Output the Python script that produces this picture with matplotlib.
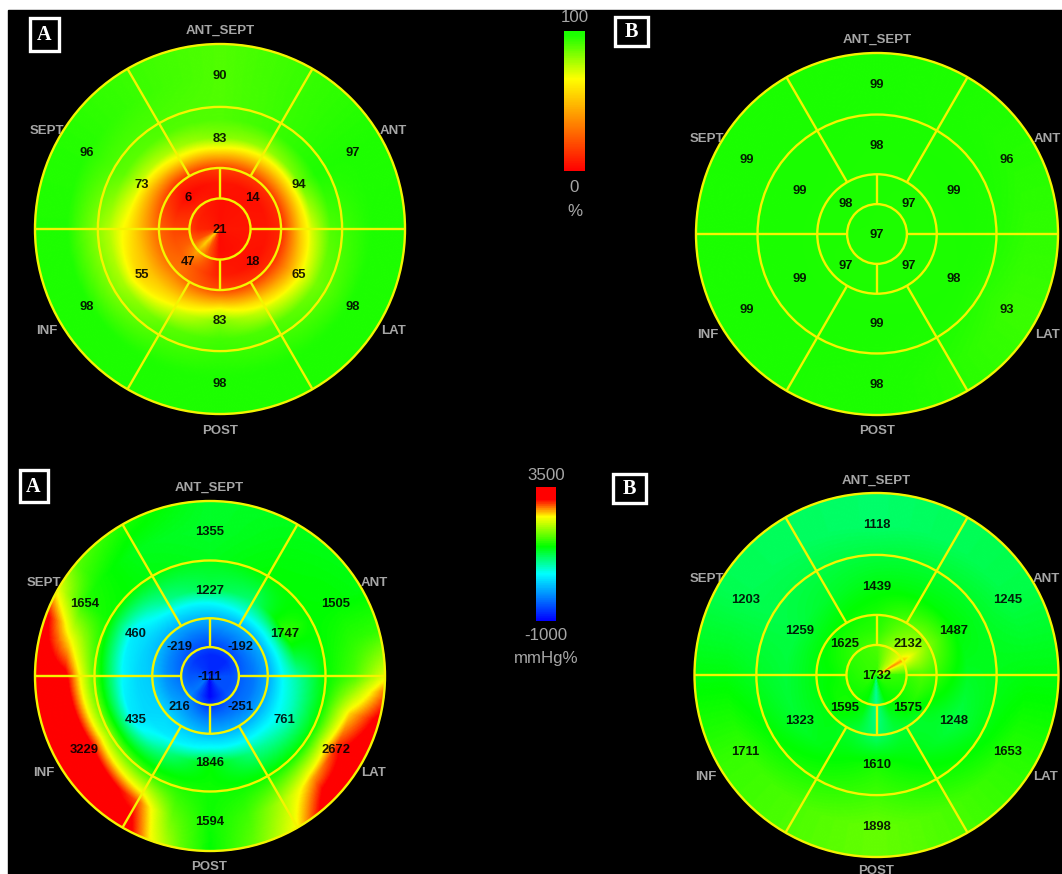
import numpy as np
import matplotlib
matplotlib.use("Agg")
import matplotlib.pyplot as plt
from matplotlib.colors import LinearSegmentedColormap
from matplotlib.patches import Circle, Rectangle

# --- segment values ---
# outer and mid rings go ANT_SEPT, ANT, LAT, POST, INF, SEPT
ANGLES_6 = [90, 30, 330, 270, 210, 150]
ANGLES_4 = [45, 315, 225, 135]

TL_OUTER = [90, 97, 98, 98, 98, 96]
TL_MID = [83, 94, 65, 83, 55, 73]
TL_INNER = [14, 18, 47, 6]
TL_APEX = 21

TR_OUTER = [99, 96, 93, 98, 99, 99]
TR_MID = [98, 99, 98, 99, 99, 99]
TR_INNER = [97, 97, 97, 98]
TR_APEX = 97

BL_OUTER = [1355, 1505, 2672, 1594, 3229, 1654]
BL_MID = [1227, 1747, 761, 1846, 435, 460]
BL_INNER = [-192, -251, 216, -219]
BL_APEX = -111

BR_OUTER = [1118, 1245, 1653, 1898, 1711, 1203]
BR_MID = [1439, 1487, 1248, 1610, 1323, 1259]
BR_INNER = [2132, 1575, 1595, 1625]
BR_APEX = 1732

# colour field: (radius fraction, angles, values)
GRID_12 = [0, 30, 60, 90, 120, 150, 180, 210, 240, 270, 300, 330]
GRID_8 = [0, 45, 90, 135, 180, 225, 270, 315]

TL_FIELD = [
    (0.0, [0, 90, 180, 205, 225, 245, 270], [6, 4, 8, 20, 62, 20, 3]),
    (0.12, [0, 90, 180, 205, 225, 245, 270], [6, 4, 10, 22, 55, 22, 3]),
    (0.165, [0, 90, 180, 205, 225, 245, 270], [6, 4, 16, 26, 45, 26, 5]),
    (0.25, GRID_8, [6, 4, 6, 2, 18, 28, 8, 4]),
    (0.33, GRID_8, [10, 14, 16, 10, 26, 30, 18, 12]),
    (0.44, GRID_12, [55, 60, 60, 66, 62, 52, 50, 50, 55, 68, 55, 45]),
    (0.5, GRID_12, [72, 86, 80, 83, 78, 73, 62, 55, 70, 83, 72, 65]),
    (0.6, GRID_12, [90, 97, 93, 90, 90, 88, 76, 78, 88, 92, 90, 85]),
    (0.83, ANGLES_6, TL_OUTER),
    (1.0, ANGLES_6, TL_OUTER),
]

TR_FIELD = [
    (0.0, ANGLES_4, [TR_APEX] * 4),
    (0.25, ANGLES_4, TR_INNER),
    (0.5, ANGLES_6, TR_MID),
    (0.83, ANGLES_6, TR_OUTER),
    (1.0, ANGLES_6, TR_OUTER),
]

BL_FIELD = [
    (0.0, GRID_8, [-500, -750, -750, -650, -450, -250, -950, -500]),
    (0.12, GRID_8, [-500, -750, -750, -650, -450, -250, -950, -500]),
    (0.25, GRID_8, [-250, -192, -250, -219, -100, 50, -200, -251]),
    (0.33, GRID_8, [50, 100, 100, 100, 250, 350, 150, 50]),
    (0.42, GRID_12, [600, 800, 700, 580, 500, 350, 350, 350, 500, 650, 550, 500]),
    (0.5, GRID_12, [900, 1747, 1100, 1227, 1000, 460, 550, 435, 1000, 1500, 1000, 761]),
    (0.66, GRID_12, [1500, 1500, 1500, 1400, 1450, 1550, 1800, 2000, 1700, 1550, 1550, 1500]),
    (0.83, [0, 30, 60, 90, 120, 150, 165, 180, 210, 240, 255, 270, 285, 300, 315, 330, 345],
     [1800, 1500, 1450, 1355, 1400, 1654, 2500, 3200, 3500, 2900, 1900, 1550, 1750, 2200, 2700, 3000, 2600]),
    (1.0, [0, 15, 30, 90, 120, 140, 150, 160, 180, 210, 240, 250, 260, 270, 285, 300, 315, 330, 345, 355],
     [2400, 1700, 1450, 1355, 1600, 1850, 2400, 3200, 3500, 3500, 3400, 2500, 1900, 1500, 1900, 2500, 3500, 3500, 3200, 2800]),
]

BR_FIELD = [
    (0.0, [0, 20, 30, 40, 90, 180, 225, 250, 270, 290, 315],
     [1750, 2200, 2900, 2200, 1700, 1750, 1700, 1550, 900, 1550, 1700]),
    (0.165, [0, 20, 30, 40, 90, 180, 225, 250, 270, 290, 315],
     [1700, 2300, 2700, 2400, 1800, 1600, 1550, 1500, 950, 1500, 1550]),
    (0.25, [0, 30, 45, 90, 135, 180, 225, 250, 270, 290, 315],
     [1800, 2300, 2132, 1650, 1625, 1500, 1595, 1400, 1000, 1350, 1575]),
    (0.33, [0, 30, 45, 90, 135, 180, 225, 250, 270, 290, 315],
     [1700, 2000, 1950, 1600, 1500, 1450, 1450, 1300, 1100, 1300, 1350]),
    (0.5, ANGLES_6, BR_MID),
    (0.83, ANGLES_6, BR_OUTER),
    (1.0, ANGLES_6, BR_OUTER),
]

WALL_NAMES = ["ANT_SEPT", "ANT", "LAT", "POST", "INF", "SEPT"]

# --- colour scales ---
CMAP_PCT = LinearSegmentedColormap.from_list("pct", [
    (0.0, (1, 0, 0)), (0.33, (1, 0.5, 0)), (0.66, (1, 1, 0)), (0.97, (0.12, 1, 0)), (1.0, (0.1, 1, 0))])
CMAP_WORK = LinearSegmentedColormap.from_list("work", [
    (0.0, (0, 0, 1)), (0.35, (0, 1, 1)), (0.556, (0, 1, 0)),
    (0.78, (1, 1, 0)), (0.91, (1, 0, 0)), (1.0, (1, 0, 0))])

GREY = "#a6a6a6"
YELLOW = "#f4f400"

fig = plt.figure(figsize=(10.62, 8.74), dpi=100, facecolor="white")
# whole figure is one axes in pixel units, same as the screenshot
ax = fig.add_axes([0, 0, 1, 1])
ax.add_patch(Rectangle((8, 10), 1054, 864, color="black", zorder=0))


def draw_bullseye(cx, cy, R, field, vmin, vmax, cmap, outer, mid, inner, apex, wall_pos):
    for name, (x, y) in zip(WALL_NAMES, wall_pos):
        ax.text(x, y + 1.5, name, color=GREY, fontsize=9.5, fontweight="bold", family="Liberation Sans",
                ha="center", va="center", zorder=1)

    # polar mesh: interpolate round each ring, then outwards along each angle
    r = np.linspace(0, 1, 240)
    theta = np.linspace(0, 360, 721)
    rows = np.array([np.interp(theta, a, v, period=360) for _, a, v in field])
    radii = [row[0] for row in field]
    Z = np.array([np.interp(r, radii, rows[:, j]) for j in range(len(theta))]).T
    T, RR = np.meshgrid(np.radians(theta), r)
    X = cx + R * RR * np.cos(T)
    Y = cy - R * RR * np.sin(T)
    ax.pcolormesh(X, Y, Z, cmap=cmap, vmin=vmin, vmax=vmax, shading="gouraud", zorder=2)

    # ring and spoke lines
    for frac in [1.0, 0.66, 0.33, 0.165]:
        ax.add_patch(Circle((cx, cy), R * frac, fill=False, ec=YELLOW, lw=1.7, zorder=3))
    for ang, r0 in [(0, 0.165), (180, 0.165), (90, 0.165), (270, 0.165),
                    (60, 0.33), (120, 0.33), (240, 0.33), (300, 0.33)]:
        r1 = 0.33 if ang in (90, 270) else 1.0
        c, s = np.cos(np.radians(ang)), np.sin(np.radians(ang))
        ax.plot([cx + R * r0 * c, cx + R * r1 * c], [cy - R * r0 * s, cy - R * r1 * s],
                color=YELLOW, lw=1.7, zorder=3, solid_capstyle="butt")

    # segment numbers
    labels = [(0.83, a, v) for a, v in zip(ANGLES_6, outer)]
    labels += [(0.49, a, v) for a, v in zip(ANGLES_6, mid)]
    labels += [(0.245, a, v) for a, v in zip(ANGLES_4, inner)]
    labels += [(0.0, 0, apex)]
    for frac, a, v in labels:
        x = cx + R * frac * np.cos(np.radians(a))
        y = cy - R * frac * np.sin(np.radians(a))
        ax.text(x, y + 1, str(v), color="black", alpha=0.88, fontsize=9.4, fontweight="bold",
                family="Liberation Sans", ha="center", va="center", zorder=4)


def draw_scale(x0, x1, y0, y1, vmin, vmax, cmap, labels):
    vals = np.linspace(vmax, vmin, 200).reshape(-1, 1)
    ys = np.linspace(y0, y1, 201)
    ax.pcolormesh([x0, x1], ys, vals, cmap=cmap, vmin=vmin, vmax=vmax, zorder=2)
    for text, y in labels:
        ax.text((x0 + x1) / 2, y + 1, text, color=GREY, fontsize=12.2, family="Liberation Sans",
                ha="center", va="center", zorder=3)


def draw_tag(x0, y0, x1, y1, letter):
    ax.add_patch(Rectangle((x0 + 1.5, y0 + 1.5), x1 - x0 - 3, y1 - y0 - 3, fc="black", ec="white",
                           lw=2.4, zorder=5))
    ax.text((x0 + x1) / 2, (y0 + y1) / 2 + 1, letter, color="white", fontsize=14.5, fontweight="bold",
            family="Liberation Serif", ha="center", va="center", zorder=6)


draw_bullseye(220, 229, 185, TL_FIELD, 0, 100, CMAP_PCT, TL_OUTER, TL_MID, TL_INNER, TL_APEX,
              [(220, 29), (393, 130), (393, 330), (220, 429), (47, 330), (47, 130)])
draw_bullseye(877, 234, 181, TR_FIELD, 0, 100, CMAP_PCT, TR_OUTER, TR_MID, TR_INNER, TR_APEX,
              [(877, 38), (1047, 137), (1047, 333), (877, 430), (708, 333), (707, 137)])
draw_bullseye(210, 676, 175, BL_FIELD, -1000, 3500, CMAP_WORK, BL_OUTER, BL_MID, BL_INNER, BL_APEX,
              [(209, 486), (374, 581), (374, 771), (209, 866), (44, 771), (44, 581)])
draw_bullseye(876.5, 675, 182, BR_FIELD, -1000, 3500, CMAP_WORK, BR_OUTER, BR_MID, BR_INNER, BR_APEX,
              [(876, 479), (1046, 578), (1046, 775), (876, 870), (706, 775), (707, 578)])

draw_scale(564, 585, 31, 171, 0, 100, CMAP_PCT, [("100", 17), ("0", 186), ("%", 211)])
draw_scale(536, 556, 487, 621, -1000, 3500, CMAP_WORK,
           [("3500", 474), ("-1000", 635), ("mmHg%", 658)])

draw_tag(28, 16, 60, 52, "A")
draw_tag(613, 15, 649, 47, "B")
draw_tag(18, 468, 49, 503, "A")
draw_tag(611, 472, 647, 504, "B")

ax.set_xlim(0, 1062)
ax.set_ylim(874, 0)
ax.axis("off")
fig.savefig("out.png", dpi=100, facecolor="white")
